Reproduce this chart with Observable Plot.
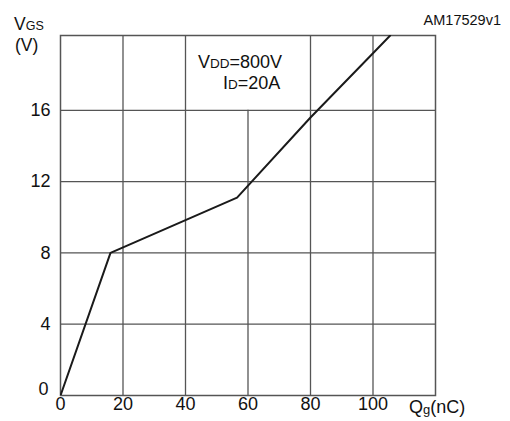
<!DOCTYPE html>
<html>
<head>
<meta charset="utf-8">
<script src="https://cdn.jsdelivr.net/npm/d3@7"></script>
<script src="https://cdn.jsdelivr.net/npm/@observablehq/plot@0.6"></script>
<style>
  html, body { margin: 0; padding: 0; background: #fff; }
  svg { font-family: "Liberation Sans", Arial, sans-serif; }
</style>
</head>
<body>
<div id="chart"></div>
<script>
// Gate charge curve
const qg  = [0, 16, 56.5, 80, 100, 105.5];   // nC
const vgs = [0, 8, 11.1, 15.6, 19.2, 20.2];  // V
const xTicks = [0, 20, 40, 60, 80, 100];
const yTicks = [4, 8, 12, 16];
const yZeroTick = [0];
const xGrid = [20, 40, 60, 80, 100];
const xGridTop = [20.2, 20.2, 16, 20.2, 20.2]; // the 60 nC line stops under the annotation
const yGrid = [4, 8, 12, 16];
const xDomain = [0, 120];
const yDomain = [0, 20.2];

const curve = qg.map((q, i) => ({q, v: vgs[i]}));
const vLines = xGrid.map((x, i) => ({x, top: xGridTop[i]}));

const font = "Liberation Sans, Arial, sans-serif";
const plot = Plot.plot({
  width: 510,
  height: 421,
  marginLeft: 60,
  marginRight: 75,
  marginTop: 35,
  marginBottom: 26,
  style: {fontFamily: font, background: "#fff"},
  x: {domain: xDomain, axis: null},
  y: {domain: yDomain, axis: null},
  marks: [
    Plot.ruleX(vLines, {x: "x", y1: 0, y2: "top", stroke: "#555", strokeWidth: 1.3}),
    Plot.ruleY(yGrid, {stroke: "#555", strokeWidth: 1.3}),
    Plot.frame({stroke: "#555", strokeWidth: 1.5}),
    Plot.line(curve, {x: "q", y: "v", stroke: "#1a1a1a", strokeWidth: 2, clip: true}),
    // y tick labels
    Plot.text(yTicks, {x: 0, y: d => d, text: d => String(d), textAnchor: "end", dx: -10, fontSize: 18, fill: "#111"}),
    Plot.text(yZeroTick, {x: 0, y: d => d, text: d => String(d), textAnchor: "end", dx: -12, dy: -6, fontSize: 18, fill: "#111"}),
    // x tick labels
    Plot.text(xTicks, {x: d => d, y: 0, text: d => String(d), dy: 2, lineAnchor: "top", fontSize: 18, fill: "#111"}),
  ]
});

// Multi-part labels with subscripts, added as real text
const svg = d3.select(plot);
function sub(x, y, parts, anchor) {
  const t = svg.append("text").attr("x", x).attr("y", y)
    .attr("font-family", font).attr("fill", "#111").attr("text-anchor", anchor || "start");
  parts.forEach(([s, size, dy]) => {
    t.append("tspan").attr("font-size", size).attr("dy", dy || 0).text(s);
  });
  return t;
}
// Axis titles
sub(14, 30, [["V", 17.5], ["GS", 12.5]]);
sub(15, 51, [["(V)", 17.5]]);
sub(409, 413, [["Q", 18], ["g", 13, 1], ["(nC)", 18, -1]]);
// Figure code
sub(501, 25, [["AM17529v1", 14.5]], "end");
// Test conditions
sub(198, 68, [["V", 18], ["DD", 13.5], ["=800V", 18]]);
sub(223, 89, [["I", 18], ["D", 13.5], ["=20A", 18]]);

document.getElementById("chart").appendChild(plot);
</script>
</body>
</html>
